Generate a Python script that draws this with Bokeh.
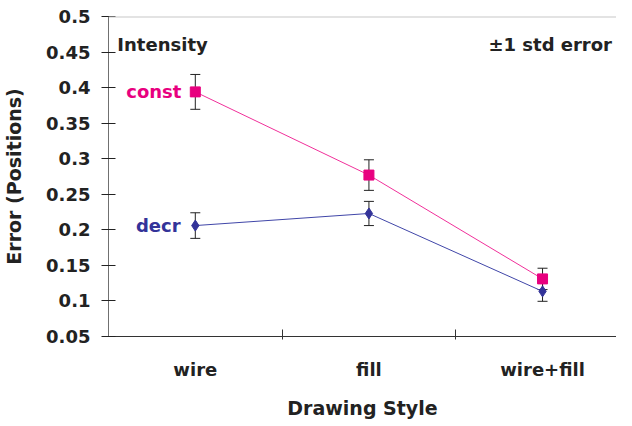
from bokeh.plotting import figure
from bokeh.models import (ColumnDataSource, Whisker, TeeHead, FixedTicker, Span, Label, Range1d)
from bokeh.embed import file_html
from bokeh.resources import INLINE

categories = ["wire", "fill", "wire+fill"]
cat_pos = [0.5, 1.5, 2.5]
const_vals = [0.394, 0.277, 0.131]
const_err = [0.0245, 0.0215, 0.015]
decr_vals = [0.206, 0.223, 0.1135]
decr_err = [0.018, 0.017, 0.014]
y_ticks = [0.05, 0.1, 0.15, 0.2, 0.25, 0.3, 0.35, 0.4, 0.45, 0.5]
y_labels = ["0.05", "0.1", "0.15", "0.2", "0.25", "0.3", "0.35", "0.4", "0.45", "0.5"]

MAG = "#E8007F"
BLU = "#333399"
FONT = "DejaVu Sans"

p = figure(width=616, height=421, output_backend="svg", toolbar_location=None,
           x_range=Range1d(0, 2.926), y_range=Range1d(0.05, 0.5),
           min_border_left=101, min_border_right=0, min_border_top=16, min_border_bottom=78)
p.outline_line_color = None
p.xgrid.visible = False
p.ygrid.visible = False
p.background_fill_color = "white"
p.border_fill_color = "white"

cs = ColumnDataSource(dict(x=cat_pos, y=const_vals,
                           lo=[v - e for v, e in zip(const_vals, const_err)],
                           hi=[v + e for v, e in zip(const_vals, const_err)]))
ds = ColumnDataSource(dict(x=cat_pos, y=decr_vals,
                           lo=[v - e for v, e in zip(decr_vals, decr_err)],
                           hi=[v + e for v, e in zip(decr_vals, decr_err)]))

p.line("x", "y", source=cs, line_color="#F0309A", line_width=1)
p.line("x", "y", source=ds, line_color="#4046A8", line_width=1)

for src in (cs, ds):
    w = Whisker(source=src, base="x", upper="hi", lower="lo", dimension="height",
                line_color="#222222", line_width=1,
                upper_head=TeeHead(size=10, line_color="#222222", line_width=1),
                lower_head=TeeHead(size=10, line_color="#222222", line_width=1))
    p.add_layout(w)

p.scatter("x", "y", source=cs, marker="square", size=10, fill_color=MAG, line_color=MAG)
p.scatter("x", "y", source=ds, marker="diamond", size=11, fill_color=BLU, line_color=BLU)

p.add_layout(Span(location=0.5, dimension="width", line_color="#c8c8c8", line_width=2))

# axes
p.xaxis.ticker = FixedTicker(ticks=cat_pos, minor_ticks=[1, 2])
p.xaxis.major_label_overrides = {k: v for k, v in zip(cat_pos, categories)}
p.xaxis.major_tick_in = 0
p.xaxis.major_tick_out = 0
p.xaxis.minor_tick_in = 7
p.xaxis.minor_tick_out = 3
p.xaxis.minor_tick_line_color = "#333333"
p.xaxis.axis_line_color = "#333333"
p.xaxis.major_label_standoff = 19
p.xaxis.axis_label = "Drawing Style"
p.xaxis.axis_label_standoff = 14

p.yaxis.ticker = FixedTicker(ticks=y_ticks, minor_ticks=[])
p.yaxis.major_label_overrides = {k: v for k, v in zip(y_ticks, y_labels)}
p.yaxis.major_tick_in = 7
p.yaxis.major_tick_out = 7
p.yaxis.major_tick_line_color = "#222222"
p.yaxis.axis_line_color = "#707070"
p.yaxis.major_label_standoff = 11
p.yaxis.axis_label = "Error (Positions)"
p.yaxis.axis_label_standoff = 18

for ax in (p.xaxis, p.yaxis):
    ax.major_label_text_font = FONT
    ax.major_label_text_font_style = "bold"
    ax.major_label_text_font_size = "18px"
    ax.major_label_text_color = "#222222"
    ax.axis_label_text_font = FONT
    ax.axis_label_text_font_style = "bold"
    ax.axis_label_text_font_size = "19px"
    ax.axis_label_text_color = "#222222"

def lab(x, y, text, color, align, baseline="alphabetic"):
    p.add_layout(Label(x=x, y=y, text=text, text_color=color, text_font=FONT,
                       text_font_style="bold", text_font_size="18px",
                       text_align=align, text_baseline=baseline))

lab(0.051, 0.461, "Intensity", "#222222", "left")
lab(2.9, 0.461, "±1 std error", "#222222", "right")
lab(0.42, const_vals[0], "const", MAG, "right", "middle")
lab(0.415, decr_vals[0], "decr", BLU, "right", "middle")

open("out.html", "w").write(file_html(p, INLINE))
